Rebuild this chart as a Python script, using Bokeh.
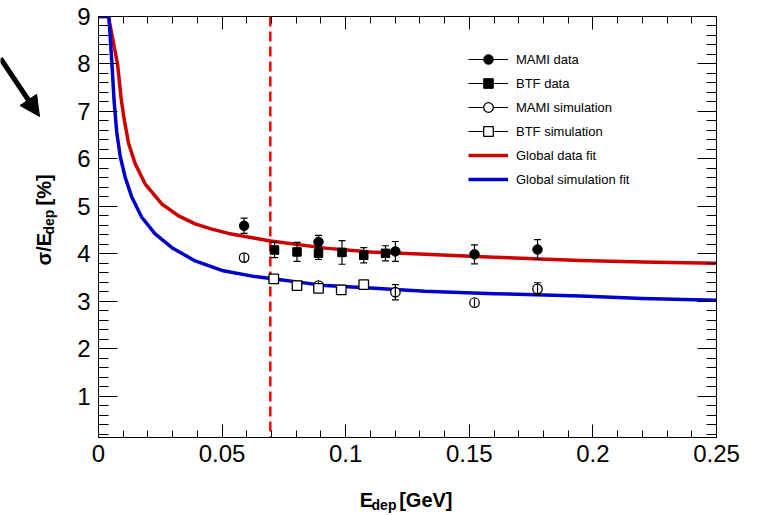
import math
from bokeh.plotting import figure
from bokeh.layouts import row, column
from bokeh.models import (Range1d, LinearAxis, SingleIntervalTicker, CustomJSTickFormatter,
                          ColumnDataSource, Span, Label, Arrow, NormalHead, Legend, LegendItem)
from bokeh.embed import file_html
from bokeh.resources import INLINE

# ---------------- data ----------------
x_range_gev = [0.0, 0.25]
y_range_pct = [0.13, 9.0]
x_tick_step = 0.05
y_tick_step = 1.0
threshold_gev = 0.0695

mami_data_e = [0.0589, 0.0890, 0.1201, 0.1521, 0.1776]
mami_data_res = [4.59, 4.25, 4.05, 3.99, 4.09]
mami_data_err = [0.16, 0.14, 0.21, 0.20, 0.21]

btf_data_e = [0.0712, 0.0803, 0.0890, 0.0985, 0.1073, 0.1161]
btf_data_res = [4.08, 4.04, 4.01, 4.03, 3.97, 4.01]
btf_data_err = [0.16, 0.20, 0.13, 0.25, 0.16, 0.16]

mami_sim_e = [0.0589, 0.0890, 0.1201, 0.1521, 0.1776]
mami_sim_res = [3.92, 3.33, 3.19, 2.97, 3.26]
mami_sim_err = [0.09, 0.08, 0.16, 0.08, 0.13]

btf_sim_e = [0.0709, 0.0803, 0.0890, 0.0982, 0.1073]
btf_sim_res = [3.47, 3.33, 3.27, 3.24, 3.35]
btf_sim_err = [0.0, 0.0, 0.0, 0.0, 0.0]

fit_data_e = [0.0, 0.0040, 0.0077, 0.0092, 0.0105, 0.0122, 0.0149, 0.0189, 0.0256, 0.0324,
              0.0391, 0.0458, 0.0526, 0.0633, 0.0697, 0.0918, 0.110, 0.132, 0.160, 0.195, 0.220, 0.250]
fit_data_res = [9.0, 9.0, 8.00, 7.25, 6.80, 6.32, 5.89, 5.47, 5.05, 4.80,
                4.63, 4.52, 4.43, 4.33, 4.27, 4.12, 4.04, 3.99, 3.93, 3.86, 3.83, 3.80]

fit_sim_e = [0.0, 0.0042, 0.0055, 0.0063, 0.0074, 0.0088, 0.0108, 0.0135, 0.0175, 0.0229,
             0.0297, 0.0391, 0.0499, 0.0633, 0.0697, 0.0918, 0.110, 0.132, 0.160, 0.195, 0.220, 0.250]
fit_sim_res = [9.0, 9.0, 7.95, 7.23, 6.55, 6.05, 5.61, 5.19, 4.77, 4.42,
               4.13, 3.85, 3.65, 3.52, 3.48, 3.33, 3.28, 3.21, 3.16, 3.11, 3.06, 3.02]

legend_labels = ["MAMI data", "BTF data", "MAMI simulation", "BTF simulation",
                 "Global data fit", "Global simulation fit"]

# ---------------- layout (page pixels) ----------------
PAGE_W, PAGE_H = 765, 514
LEFT_W = 60                      # side strip holding the arrow and the y title
BORDER_LEFT, BORDER_TOP, BORDER_RIGHT, BORDER_BOTTOM = 38, 16, 49, 40
FRAME_W, FRAME_H = 618, 421
MAIN_H = BORDER_TOP + FRAME_H + BORDER_BOTTOM
FONT = "Liberation Sans"
RED_FIT = "#cc0000"
BLUE_FIT = "#0000cc"


def blank_fig(w, h, xr, yr):
    f = figure(width=w, height=h, x_range=Range1d(*xr), y_range=Range1d(*yr),
               output_backend="svg", toolbar_location=None, min_border=0,
               x_axis_location=None, y_axis_location=None)
    f.grid.visible = False
    f.outline_line_color = None
    f.background_fill_color = "white"
    f.border_fill_color = "white"
    return f


# ---------------- main plot ----------------
p = figure(frame_width=FRAME_W, frame_height=FRAME_H,
           x_range=Range1d(*x_range_gev), y_range=Range1d(*y_range_pct),
           output_backend="svg", toolbar_location=None,
           min_border_left=BORDER_LEFT, min_border_top=BORDER_TOP,
           min_border_right=BORDER_RIGHT, min_border_bottom=BORDER_BOTTOM)
p.grid.visible = False
p.outline_line_color = "black"
p.background_fill_color = "white"
p.border_fill_color = "white"


def style_axis(ax, tick_in, minor_in, labels=True):
    ax.axis_line_color = "black"
    ax.axis_line_width = 1
    ax.major_tick_line_color = "black"
    ax.minor_tick_line_color = "black"
    ax.major_tick_in = tick_in
    ax.major_tick_out = 0
    ax.minor_tick_in = minor_in
    ax.minor_tick_out = 0
    ax.major_label_text_font = FONT
    ax.major_label_text_color = "black"
    if labels:
        ax.major_label_text_font_size = "24px"
    else:
        ax.major_label_text_font_size = "0px"
        ax.major_label_standoff = 0
        ax.formatter = CustomJSTickFormatter(code="return ''")


xb = p.xaxis[0]
xb.ticker = SingleIntervalTicker(interval=x_tick_step, num_minor_ticks=5)
xb.formatter = CustomJSTickFormatter(code="return parseFloat(tick.toFixed(3)).toString()")
style_axis(xb, 13, 7)
xb.major_label_standoff = 7

yl = p.yaxis[0]
yl.ticker = SingleIntervalTicker(interval=y_tick_step, num_minor_ticks=5)
style_axis(yl, 19, 10)
yl.major_label_standoff = 8

xt = LinearAxis(ticker=SingleIntervalTicker(interval=x_tick_step, num_minor_ticks=5))
style_axis(xt, 13, 7, labels=False)
p.add_layout(xt, "above")

yr = LinearAxis(ticker=SingleIntervalTicker(interval=y_tick_step, num_minor_ticks=5))
style_axis(yr, 19, 10, labels=False)
p.add_layout(yr, "right")

# threshold line
p.add_layout(Span(location=threshold_gev, dimension="height", line_color="#ff0000",
                  line_width=2.5, line_dash="10 5", level="underlay"))

# fits
r_fit_data = p.line(fit_data_e, fit_data_res, line_color=RED_FIT, line_width=3.5, line_join="round")
r_fit_sim = p.line(fit_sim_e, fit_sim_res, line_color=BLUE_FIT, line_width=3.5, line_join="round")


def series(xs, ys, errs, marker, size, filled, cap_min):
    src = ColumnDataSource(dict(x=xs, y=ys, lo=[y - e for y, e in zip(ys, errs)],
                                hi=[y + e for y, e in zip(ys, errs)]))
    keep = [e >= cap_min and e > 0 for e in errs]
    caps_x = [x for x, k in zip(xs, keep) if k] * 2
    caps_y = ([y + e for y, e, k in zip(ys, errs, keep) if k] +
              [y - e for y, e, k in zip(ys, errs, keep) if k])
    if filled:
        r_err = p.segment(x0="x", y0="lo", x1="x", y1="hi", source=src, line_color="black", line_width=1.2)
        p.scatter(caps_x, caps_y, marker="dash", size=7, line_color="black", line_width=1.2)
        r_m = p.scatter("x", "y", source=src, marker=marker, size=size,
                        fill_color="black", line_color="black", line_width=1)
    else:
        r_m = p.scatter("x", "y", source=src, marker=marker, size=size,
                        fill_color="white", line_color="black", line_width=1.3)
        r_err = p.segment(x0="x", y0="lo", x1="x", y1="hi", source=src, line_color="black", line_width=1.2)
        p.scatter(caps_x, caps_y, marker="dash", size=7, line_color="black", line_width=1.2)
    return r_err, r_m


md = series(mami_data_e, mami_data_res, mami_data_err, "circle", 9.5, True, 0.0)
bd = series(btf_data_e, btf_data_res, btf_data_err, "square", 8.5, True, 0.0)
ms = series(mami_sim_e, mami_sim_res, mami_sim_err, "circle", 9.5, False, 0.11)
bs = series(btf_sim_e, btf_sim_res, btf_sim_err, "square", 9.5, False, 0.11)

legend = Legend(items=[
    LegendItem(label=legend_labels[0], renderers=list(md)),
    LegendItem(label=legend_labels[1], renderers=list(bd)),
    LegendItem(label=legend_labels[2], renderers=list(ms)),
    LegendItem(label=legend_labels[3], renderers=list(bs)),
    LegendItem(label=legend_labels[4], renderers=[r_fit_data]),
    LegendItem(label=legend_labels[5], renderers=[r_fit_sim]),
], location=(370, 246), orientation="vertical", padding=0, margin=0, spacing=0,
    glyph_width=40, glyph_height=24, label_standoff=8, label_text_font=FONT,
    label_text_font_size="13px", label_text_color="black",
    border_line_color=None, background_fill_alpha=0)
p.add_layout(legend)

TITLE = dict(text_font=FONT, text_font_style="bold", text_color="black", text_baseline="alphabetic",
             text_align="left")

# ---------------- left strip: pointer arrow and y title (coordinates = page pixels) ----------------
left = blank_fig(LEFT_W, PAGE_H, (0, LEFT_W), (PAGE_H, 0))
arrow_page_start = (0, 58)
arrow_page_end = (39, 116)
left.add_layout(Arrow(x_start=arrow_page_start[0], y_start=arrow_page_start[1],
                      x_end=arrow_page_end[0], y_end=arrow_page_end[1],
                      line_color="black", line_width=5,
                      end=NormalHead(size=20, fill_color="black", line_color="black")))
left.add_layout(Label(x=43, y=265, text="σ/E", angle=math.pi / 2, text_font_size="20px", **TITLE))
left.add_layout(Label(x=48, y=234, text="dep", angle=math.pi / 2, text_font_size="14px", **TITLE))
left.add_layout(Label(x=43, y=205, text="[%]", angle=math.pi / 2, text_font_size="20px", **TITLE))

# ---------------- bottom strip: x title ----------------
main_w = BORDER_LEFT + FRAME_W + BORDER_RIGHT
bottom = blank_fig(main_w, PAGE_H - MAIN_H, (LEFT_W, LEFT_W + main_w), (PAGE_H, MAIN_H))
bottom.add_layout(Label(x=358, y=499, text="E", text_font_size="20px", **TITLE))
bottom.add_layout(Label(x=371.5, y=504, text="dep", text_font_size="14px", **TITLE))
bottom.add_layout(Label(x=403, y=499, text="[GeV]", text_font_size="20px", **TITLE))

layout = row(left, column(p, bottom, spacing=0), spacing=0)
open("out.html", "w").write(file_html(layout, INLINE))
